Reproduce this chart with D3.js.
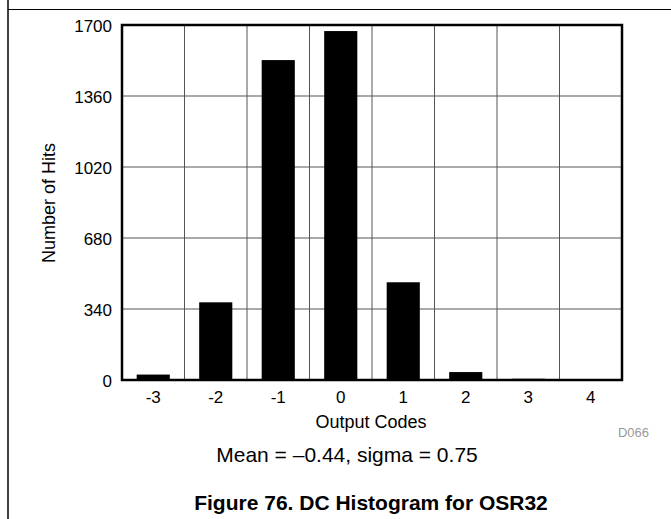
<!DOCTYPE html>
<html><head><meta charset="utf-8">
<script src="https://cdn.jsdelivr.net/npm/d3@7"></script>
<style>body{margin:0;background:#fff}svg{display:block;font-family:"Liberation Sans",Arial,sans-serif}</style>
</head><body>
<script>
const categories = ["-3","-2","-1","0","1","2","3","4"];
const hits = [26, 372, 1532, 1671, 468, 38, 6, 3];
const yTicks = [0, 340, 680, 1020, 1360, 1700];

const W = 671, H = 519;
const m = {left: 122, right: 622, top: 25, bottom: 380};
const FONT = "Liberation Sans, Arial, sans-serif";
const svg = d3.select("body").append("svg").attr("width", W).attr("height", H);

// outer frame lines
svg.append("line").attr("x1", 8).attr("x2", 8).attr("y1", 0).attr("y2", H).attr("stroke", "#000").attr("stroke-width", 1.5);
svg.append("line").attr("x1", 8).attr("x2", W).attr("y1", 9.5).attr("y2", 9.5).attr("stroke", "#000").attr("stroke-width", 1.2);

const x = d3.scaleBand().domain(categories).range([m.left, m.right]).paddingInner(0).paddingOuter(0);
const y = d3.scaleLinear().domain([0, 1700]).range([m.bottom, m.top]);

// grid
const g = svg.append("g");
g.selectAll(".vg").data(categories.slice(1)).join("line")
  .attr("x1", d => x(d)).attr("x2", d => x(d)).attr("y1", m.top).attr("y2", m.bottom)
  .attr("stroke", "#555").attr("stroke-width", 1);
g.selectAll(".hg").data(yTicks.slice(1, -1)).join("line")
  .attr("x1", m.left).attr("x2", m.right).attr("y1", d => y(d)).attr("y2", d => y(d))
  .attr("stroke", "#555").attr("stroke-width", 1);

// bars
const bw = x.bandwidth() * 0.53;
svg.selectAll(".bar").data(categories).join("rect")
  .attr("x", d => x(d) + (x.bandwidth() - bw) / 2)
  .attr("width", bw)
  .attr("y", (d, i) => y(hits[i]))
  .attr("height", (d, i) => y(0) - y(hits[i]))
  .attr("fill", "#000");

// frame
svg.append("rect").attr("x", m.left).attr("y", m.top).attr("width", m.right - m.left).attr("height", m.bottom - m.top)
  .attr("fill", "none").attr("stroke", "#000").attr("stroke-width", 2.5);

// axes
const xAxis = svg.append("g").attr("transform", `translate(0,${m.bottom})`)
  .call(d3.axisBottom(x).tickSize(0).tickPadding(11));
xAxis.attr("font-size", 17).attr("font-family", FONT);
xAxis.select(".domain").remove();
xAxis.selectAll("text").attr("fill", "#000");

const yAxis = svg.append("g").attr("transform", `translate(${m.left},0)`)
  .call(d3.axisLeft(y).tickValues(yTicks).tickFormat(d3.format("d")).tickSize(0).tickPadding(10));
yAxis.attr("font-size", 17).attr("font-family", FONT);
yAxis.select(".domain").remove();
yAxis.selectAll("text").attr("fill", "#000").attr("dy", "0.4em");

// labels
svg.append("text").attr("x", 371).attr("y", 428).attr("text-anchor", "middle").attr("font-size", 18).text("Output Codes");
svg.append("text").attr("transform", "translate(55,203) rotate(-90)").attr("text-anchor", "middle").attr("font-size", 18).text("Number of Hits");
svg.append("text").attr("x", 649).attr("y", 437).attr("text-anchor", "end").attr("font-size", 13).attr("fill", "#999").text("D066");
svg.append("text").attr("x", 347).attr("y", 462).attr("text-anchor", "middle").attr("font-size", 21).text("Mean = \u20130.44, sigma = 0.75");
svg.append("text").attr("x", 371).attr("y", 510).attr("text-anchor", "middle").attr("font-size", 21).attr("font-weight", "bold").text("Figure 76. DC Histogram for OSR32");
</script>
</body></html>
